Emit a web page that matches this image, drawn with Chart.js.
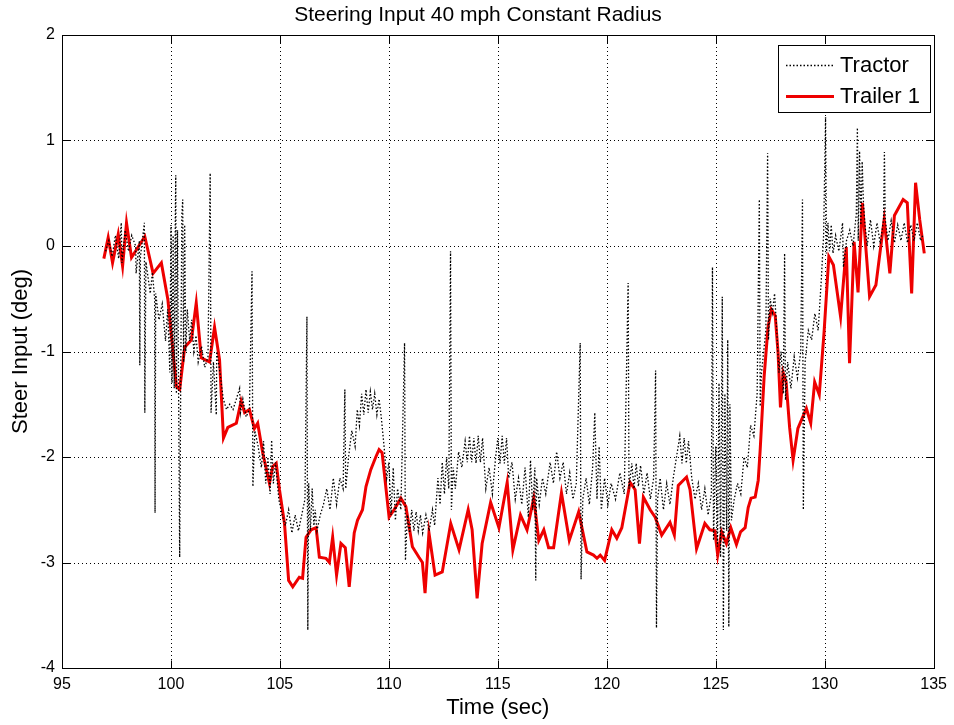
<!DOCTYPE html>
<html>
<head>
<meta charset="utf-8">
<script src="https://cdn.jsdelivr.net/npm/chart.js@4/dist/chart.umd.min.js"></script>
<style>
  html, body { margin: 0; padding: 0; background: #fff; }
  canvas { display: block; }
</style>
</head>
<body>
<canvas id="steer" width="954" height="725"></canvas>
<script>
// Text
const chartTitle = 'Steering Input 40 mph Constant Radius';
const xTitle = 'Time (sec)';
const yTitle = 'Steer Input (deg)';
const seriesNames = ['Tractor', 'Trailer 1'];

// Axis ticks
const xTicks = [95, 100, 105, 110, 115, 120, 125, 130, 135];
const yTicks = [-4, -3, -2, -1, 0, 1, 2];

// Trailer 1 steer angle (deg) against time (s)
const trailerTime = [
  96.92, 97.12, 97.32, 97.58, 97.78, 97.96, 98.19, 98.80, 99.18, 99.56,
  99.86, 100.25, 100.40, 100.63, 100.94, 101.16, 101.39, 101.77, 102.00, 102.23,
  102.41, 102.61, 103.00, 103.22, 103.38, 103.60, 103.83, 103.98, 104.21, 104.52,
  104.67, 104.83, 104.98, 105.21, 105.40, 105.59, 105.89, 106.04, 106.20, 106.43,
  106.66, 106.81, 107.11, 107.27, 107.42, 107.60, 107.80, 108.00, 108.18, 108.41,
  108.56, 108.79, 108.95, 109.17, 109.40, 109.55, 109.69, 110.01, 110.24, 110.55,
  110.78, 111.08, 111.38, 111.54, 111.66, 111.84, 112.12, 112.45, 112.84, 113.22,
  113.64, 113.82, 114.05, 114.28, 114.67, 115.05, 115.43, 115.69, 116.04, 116.34,
  116.65, 116.88, 117.11, 117.33, 117.56, 117.92, 118.28, 118.71, 119.09, 119.39,
  119.55, 119.70, 119.90, 120.23, 120.46, 120.69, 121.07, 121.30, 121.50, 121.68,
  121.99, 122.22, 122.52, 122.90, 123.10, 123.28, 123.66, 123.82, 124.12, 124.50,
  124.73, 124.96, 125.09, 125.27, 125.49, 125.69, 125.95, 126.14, 126.35, 126.49,
  126.62, 126.81, 126.95, 127.04, 127.22, 127.40, 127.55, 127.73, 127.86, 127.97,
  128.09, 128.23, 128.39, 128.55, 128.77, 129.16, 129.36, 129.54, 129.75, 129.97,
  130.19, 130.40, 130.73, 130.99, 131.14, 131.35, 131.53, 131.73, 131.93, 132.06,
  132.35, 132.73, 132.99, 133.20, 133.60, 133.79, 133.99, 134.17, 134.36, 134.57
];
const trailerSteer = [
  -0.12, 0.08, -0.16, 0.11, -0.19, 0.22, -0.11, 0.09, -0.26, -0.16,
  -0.51, -1.33, -1.36, -0.96, -0.89, -0.54, -1.06, -1.10, -0.77, -1.08,
  -1.82, -1.72, -1.68, -1.47, -1.58, -1.55, -1.73, -1.68, -1.96, -2.25,
  -2.09, -2.06, -2.31, -2.63, -3.17, -3.23, -3.14, -3.15, -2.76, -2.69,
  -2.67, -2.95, -2.96, -3.00, -2.76, -3.12, -2.82, -2.86, -3.23, -2.72,
  -2.60, -2.50, -2.28, -2.12, -2.00, -1.93, -1.96, -2.57, -2.50, -2.39,
  -2.47, -2.85, -2.95, -3.00, -3.29, -2.72, -3.12, -3.09, -2.63, -2.88,
  -2.50, -2.69, -3.34, -2.82, -2.43, -2.67, -2.24, -2.88, -2.55, -2.69,
  -2.39, -2.79, -2.69, -2.86, -2.86, -2.34, -2.79, -2.52, -2.90, -2.93,
  -2.96, -2.93, -2.98, -2.69, -2.77, -2.67, -2.24, -2.31, -2.82, -2.38,
  -2.50, -2.57, -2.74, -2.62, -2.74, -2.27, -2.19, -2.31, -2.87, -2.63,
  -2.69, -2.70, -2.93, -2.71, -2.82, -2.67, -2.83, -2.71, -2.67, -2.48,
  -2.39, -2.38, -2.22, -1.93, -1.24, -0.77, -0.60, -0.66, -1.01, -1.53,
  -1.20, -1.29, -1.72, -2.03, -1.73, -1.54, -1.68, -1.29, -1.41, -0.82,
  -0.10, -0.18, -0.67, -0.01, -1.11, 0.04, -0.44, 0.41, -0.13, -0.48,
  -0.37, 0.25, -0.26, 0.29, 0.44, 0.41, -0.45, 0.60, 0.25, -0.07
];

// Tractor steer angle (deg) against time (s)
const tractorTime = [
  97.00, 97.15, 97.30, 97.45, 97.60, 97.72, 97.75, 97.90, 98.05, 98.20,
  98.38, 98.40, 98.55, 98.57, 98.60, 98.78, 98.80, 98.85, 98.95, 99.05,
  99.15, 99.25, 99.27, 99.30, 99.45, 99.60, 99.75, 99.85, 99.95, 100.00,
  100.05, 100.10, 100.15, 100.20, 100.22, 100.25, 100.30, 100.35, 100.40, 100.45,
  100.50, 100.54, 100.58, 100.63, 100.68, 100.75, 100.86, 100.95, 101.05, 101.15,
  101.25, 101.40, 101.55, 101.70, 101.80, 101.84, 101.95, 102.08, 102.10, 102.25,
  102.40, 102.55, 102.70, 102.85, 103.00, 103.15, 103.19, 103.30, 103.45, 103.60,
  103.72, 103.76, 103.85, 104.00, 104.15, 104.25, 104.35, 104.45, 104.55, 104.62,
  104.70, 104.80, 104.95, 105.10, 105.25, 105.40, 105.55, 105.70, 105.85, 106.00,
  106.15, 106.24, 106.28, 106.32, 106.40, 106.48, 106.56, 106.62, 106.70, 106.85,
  107.00, 107.15, 107.30, 107.45, 107.60, 107.75, 107.90, 107.98, 108.02, 108.15,
  108.30, 108.45, 108.55, 108.65, 108.75, 108.85, 108.95, 109.05, 109.15, 109.25,
  109.35, 109.45, 109.55, 109.65, 109.78, 109.90, 110.00, 110.10, 110.20, 110.30,
  110.40, 110.55, 110.72, 110.76, 110.85, 110.95, 111.05, 111.15, 111.25, 111.35,
  111.45, 111.55, 111.70, 111.85, 112.00, 112.10, 112.25, 112.35, 112.45, 112.55,
  112.65, 112.75, 112.83, 112.87, 112.95, 113.05, 113.20, 113.35, 113.50, 113.60,
  113.70, 113.80, 113.90, 114.00, 114.10, 114.20, 114.30, 114.45, 114.60, 114.75,
  114.90, 115.00, 115.10, 115.20, 115.30, 115.40, 115.50, 115.65, 115.80, 115.95,
  116.10, 116.25, 116.40, 116.50, 116.60, 116.70, 116.74, 116.78, 116.90, 117.05,
  117.20, 117.40, 117.55, 117.70, 117.85, 118.00, 118.15, 118.30, 118.45, 118.60,
  118.78, 118.82, 118.90, 119.05, 119.20, 119.35, 119.45, 119.55, 119.65, 119.75,
  119.90, 120.05, 120.20, 120.40, 120.60, 120.80, 120.98, 121.02, 121.15, 121.25,
  121.35, 121.45, 121.55, 121.70, 121.85, 122.00, 122.15, 122.24, 122.28, 122.33,
  122.45, 122.60, 122.75, 122.90, 123.05, 123.20, 123.35, 123.45, 123.55, 123.65,
  123.75, 123.90, 124.05, 124.20, 124.35, 124.50, 124.65, 124.80, 124.85, 124.90,
  125.00, 125.08, 125.15, 125.22, 125.30, 125.35, 125.42, 125.50, 125.55, 125.60,
  125.65, 125.72, 125.85, 126.00, 126.15, 126.30, 126.45, 126.60, 126.75, 126.90,
  127.00, 127.04, 127.10, 127.20, 127.30, 127.38, 127.42, 127.50, 127.60, 127.70,
  127.80, 127.90, 128.00, 128.10, 128.16, 128.20, 128.30, 128.45, 128.60, 128.75,
  128.90, 128.98, 129.02, 129.10, 129.25, 129.40, 129.55, 129.70, 129.85, 129.95,
  130.04, 130.08, 130.15, 130.22, 130.30, 130.38, 130.50, 130.65, 130.82, 130.86,
  131.00, 131.15, 131.30, 131.45, 131.50, 131.54, 131.60, 131.66, 131.72, 131.78,
  131.85, 131.95, 132.10, 132.25, 132.40, 132.55, 132.70, 132.74, 132.78, 132.90,
  133.05, 133.20, 133.35, 133.50, 133.65, 133.80, 133.95, 134.10, 134.25, 134.40,
  134.50
];
const tractorSteer = [
  -0.05, 0.05, -0.10, 0.10, -0.12, 0.22, -0.16, 0.15, -0.05, 0.10,
  0.00, -0.26, 0.05, -1.13, -0.10, 0.22, -1.58, -0.15, -0.30, -0.45,
  -0.25, -0.50, -2.53, -0.45, -0.70, -0.55, -0.90, -0.60, -1.20, 0.20,
  -1.30, 0.10, -1.35, 0.25, 0.67, -1.40, 0.15, -1.35, -2.95, -1.20,
  0.30, 0.44, -1.10, 0.20, -1.00, -0.60, -0.90, -0.70, -1.00, -0.85,
  -1.10, -0.95, -1.15, -1.05, 0.69, -1.58, -1.10, -1.60, -1.00, -1.20,
  -1.45, -1.55, -1.50, -1.55, -1.45, -1.35, -1.58, -1.45, -1.62, -1.55,
  -0.24, -2.28, -1.75, -1.90, -2.10, -1.85, -2.25, -2.00, -2.35, -1.84,
  -2.25, -2.05, -2.40, -2.55, -2.65, -2.50, -2.72, -2.55, -2.70, -2.55,
  -2.40, -0.67, -3.64, -2.25, -2.70, -2.30, -2.65, -2.50, -2.70, -2.55,
  -2.45, -2.30, -2.50, -2.20, -2.45, -2.20, -2.30, -1.36, -2.30, -2.00,
  -1.75, -1.90, -1.55, -1.70, -1.40, -1.60, -1.36, -1.58, -1.38, -1.55,
  -1.40, -1.60, -1.45, -1.62, -1.90, -2.20, -2.05, -2.55, -2.10, -2.60,
  -2.30, -2.50, -0.92, -2.98, -2.55, -2.72, -2.50, -2.70, -2.52, -2.70,
  -2.55, -2.72, -2.55, -2.70, -2.50, -2.65, -2.20, -2.45, -2.05, -2.35,
  -2.00, -2.30, -0.05, -2.50, -2.10, -2.30, -1.95, -2.10, -1.85, -2.05,
  -1.80, -2.05, -1.82, -2.06, -1.80, -2.05, -1.82, -2.30, -2.10, -2.35,
  -2.00, -1.82, -2.06, -1.80, -2.06, -1.82, -2.20, -2.05, -2.40, -2.20,
  -2.45, -2.10, -2.57, -2.03, -2.50, -2.10, -3.17, -2.20, -2.45, -2.20,
  -2.35, -2.05, -2.25, -1.95, -2.20, -2.05, -2.35, -2.15, -2.40, -2.25,
  -0.92, -3.16, -2.40, -2.20, -2.45, -2.10, -1.58, -2.40, -1.90, -2.50,
  -2.20, -2.45, -2.25, -2.40, -2.15, -2.35, -0.35, -2.30, -2.06, -2.30,
  -2.06, -2.28, -2.08, -2.35, -2.15, -2.40, -2.20, -1.18, -3.62, -2.40,
  -2.20, -2.50, -2.25, -2.45, -2.20, -2.00, -1.80, -2.06, -1.82, -2.06,
  -1.85, -2.20, -2.40, -2.25, -2.50, -2.30, -2.55, -2.35, -0.20, -2.79,
  -1.90, -2.85, -1.30, -2.95, -0.48, -3.64, -1.40, -2.70, -0.89, -3.61,
  -1.50, -2.60, -2.40, -2.25, -2.35, -2.00, -2.10, -1.70, -1.80, -1.40,
  0.44, -1.52, -1.20, -1.00, -0.80, 0.88, -0.89, -0.50, -0.63, -0.45,
  -0.80, -1.20, -1.00, -1.40, -0.07, -1.46, -1.10, -1.35, -1.05, -1.25,
  -1.00, 0.44, -2.50, -1.10, -0.80, -0.89, -0.64, -0.80, -0.30, 0.10,
  1.22, -0.07, 0.22, -0.05, 0.20, -0.07, 0.10, -0.05, 0.22, -0.20,
  0.05, 0.15, 0.00, 0.30, 1.12, 0.05, 0.90, 0.20, 0.80, 0.40,
  0.20, 0.00, 0.25, 0.00, 0.22, 0.02, 0.25, 0.89, 0.25, 0.05,
  0.24, 0.03, 0.20, 0.05, 0.22, 0.03, 0.20, 0.05, 0.22, 0.05,
  0.10
];

const toPoints = (xs, ys) => xs.map((x, i) => ({ x: x, y: ys[i] }));

const SANS = '"Liberation Sans", Arial, Helvetica, sans-serif';
const NARROW = '"Liberation Sans Narrow", "Liberation Sans", Arial, sans-serif';
const TRACTOR_DASH = [1.5, 2];
const GRID_DASH = [1, 3];

// Box, dotted grid, inward ticks, titles and legend in a MATLAB-like style
const axesFrame = {
  id: 'axesFrame',
  beforeDatasetsDraw(chart) {
    const { ctx, chartArea: a, scales: { x, y } } = chart;
    ctx.save();
    ctx.strokeStyle = '#000';
    ctx.lineWidth = 1;
    ctx.setLineDash(GRID_DASH);
    ctx.beginPath();
    xTicks.forEach(v => {
      if (v === x.min || v === x.max) return;
      const p = Math.round(x.getPixelForValue(v)) + 0.5;
      ctx.moveTo(p, a.top); ctx.lineTo(p, a.bottom);
    });
    yTicks.forEach(v => {
      if (v === y.min || v === y.max) return;
      const p = Math.round(y.getPixelForValue(v)) + 0.5;
      ctx.moveTo(a.left, p); ctx.lineTo(a.right, p);
    });
    ctx.stroke();
    ctx.restore();
  },
  afterDatasetsDraw(chart) {
    const { ctx, chartArea: a, scales: { x, y } } = chart;
    const L = Math.round(a.left) + 0.5, R = Math.round(a.right) + 0.5;
    const T = Math.round(a.top) + 0.5, B = Math.round(a.bottom) + 0.5;
    const tick = 8;
    ctx.save();
    ctx.strokeStyle = '#000';
    ctx.lineWidth = 1;
    ctx.setLineDash([]);
    ctx.strokeRect(L, T, R - L, B - T);
    ctx.beginPath();
    xTicks.forEach(v => {
      const p = Math.round(x.getPixelForValue(v)) + 0.5;
      ctx.moveTo(p, B); ctx.lineTo(p, B - tick);
      ctx.moveTo(p, T); ctx.lineTo(p, T + tick);
    });
    yTicks.forEach(v => {
      const p = Math.round(y.getPixelForValue(v)) + 0.5;
      ctx.moveTo(L, p); ctx.lineTo(L + tick, p);
      ctx.moveTo(R, p); ctx.lineTo(R - tick, p);
    });
    ctx.stroke();

    // Titles
    ctx.fillStyle = '#000';
    ctx.textAlign = 'center';
    ctx.textBaseline = 'middle';
    ctx.font = '21px ' + SANS;
    ctx.fillText(chartTitle, 478, 15);
    ctx.font = '22px ' + SANS;
    ctx.fillText(xTitle, (a.left + a.right) / 2, 708);
    ctx.save();
    ctx.translate(21, (a.top + a.bottom) / 2);
    ctx.rotate(-Math.PI / 2);
    ctx.fillText(yTitle, 0, 0);
    ctx.restore();

    // Legend
    const bx = 778.5, by = 45.5, bw = 152, bh = 67;
    ctx.fillStyle = '#fff';
    ctx.fillRect(bx, by, bw, bh);
    ctx.strokeStyle = '#000';
    ctx.strokeRect(bx, by, bw, bh);
    const rows = [by + 19, by + 50];
    chart.data.datasets.forEach((ds, i) => {
      ctx.save();
      ctx.strokeStyle = ds.borderColor;
      ctx.lineWidth = ds.borderWidth;
      ctx.setLineDash(ds.borderDash || []);
      ctx.beginPath();
      ctx.moveTo(786, Math.round(rows[i]) + 0.5);
      ctx.lineTo(834, Math.round(rows[i]) + 0.5);
      ctx.stroke();
      ctx.restore();
      ctx.fillStyle = '#000';
      ctx.textAlign = 'left';
      ctx.font = '22px ' + SANS;
      ctx.fillText(ds.label, 840, rows[i] + 1);
    });
    ctx.restore();
  }
};

new Chart(document.getElementById('steer'), {
  type: 'line',
  data: {
    datasets: [
      {
        label: seriesNames[0],
        data: toPoints(tractorTime, tractorSteer),
        borderColor: '#000000',
        borderWidth: 1.3,
        borderDash: TRACTOR_DASH,
        pointRadius: 0,
        tension: 0,
        fill: false
      },
      {
        label: seriesNames[1],
        data: toPoints(trailerTime, trailerSteer),
        borderColor: '#ee0000',
        borderWidth: 3,
        pointRadius: 0,
        tension: 0,
        fill: false,
        borderJoinStyle: 'miter'
      }
    ]
  },
  options: {
    responsive: false,
    animation: false,
    events: [],
    layout: { padding: { left: 0, right: 18, top: 35, bottom: 0 } },
    scales: {
      x: {
        type: 'linear',
        min: 95,
        max: 135,
        afterBuildTicks: s => { s.ticks = xTicks.map(v => ({ value: v })); },
        afterFit: s => { s.height = 57; },
        grid: { display: false, drawTicks: false },
        border: { display: false },
        ticks: {
          padding: 7,
          color: '#000',
          maxRotation: 0,
          autoSkip: false,
          font: { family: NARROW, size: 16 },
          callback: v => String(v)
        }
      },
      y: {
        type: 'linear',
        min: -4,
        max: 2,
        afterBuildTicks: s => { s.ticks = yTicks.map(v => ({ value: v })); },
        afterFit: s => { s.width = 62; },
        grid: { display: false, drawTicks: false },
        border: { display: false },
        ticks: {
          padding: 7,
          color: '#000',
          autoSkip: false,
          font: { family: NARROW, size: 16 },
          callback: v => String(v)
        }
      }
    },
    plugins: {
      legend: { display: false },
      title: { display: false },
      tooltip: { enabled: false }
    }
  },
  plugins: [axesFrame]
});
</script>
</body>
</html>
